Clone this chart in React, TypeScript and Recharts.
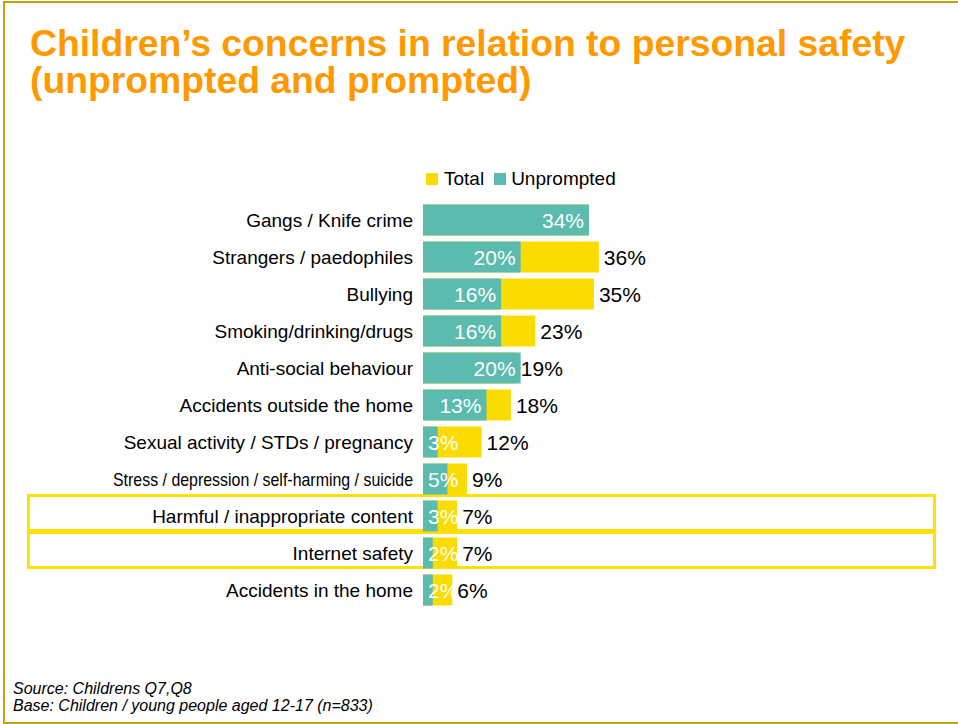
import { BarChart, Bar, XAxis, YAxis } from "recharts";

const categories = [
  "Gangs / Knife crime",
  "Strangers / paedophiles",
  "Bullying",
  "Smoking/drinking/drugs",
  "Anti-social behaviour",
  "Accidents outside the home",
  "Sexual activity / STDs / pregnancy",
  "Stress / depression / self-harming / suicide",
  "Harmful / inappropriate content",
  "Internet safety",
  "Accidents in the home",
];
const totalValues = [34, 36, 35, 23, 19, 18, 12, 9, 7, 7, 6];
const unpromptedValues = [34, 20, 16, 16, 20, 13, 3, 5, 3, 2, 2];
const highlighted = ["Harmful / inappropriate content", "Internet safety"];

const FONT = '"Liberation Sans", Arial, sans-serif';
const TEAL = "#5BBBAF";
const YELLOW = "#FADC00";
const BOX = "#FFE000";

const PLOT_TOP = 201.5;
const BAND = 37;

const rows = categories.map((c, i) => ({
  category: c,
  total: totalValues[i],
  unprompted: unpromptedValues[i],
}));

// long labels are squeezed in the original slide
const CategoryTick = (props: any) => {
  const { x, y, payload } = props;
  const long = String(payload.value).length > 40;
  return (
    <text
      x={x}
      y={y}
      textAnchor="end"
      dominantBaseline="central"
      fill="#000"
      fontSize={19}
      fontFamily={FONT}
      textLength={long ? 300 : undefined}
      lengthAdjust={long ? "spacingAndGlyphs" : undefined}
    >
      {payload.value}
    </text>
  );
};

const TotalLabel = (props: any) => {
  const { x, y, width, height, value, index } = props;
  if (value === unpromptedValues[index]) return null;
  return (
    <text
      x={x + width + 5}
      y={y + height / 2}
      dominantBaseline="central"
      fill="#000"
      fontSize={21}
      fontFamily={FONT}
    >
      {value}%
    </text>
  );
};

const UnpromptedLabel = (props: any) => {
  const { x, y, width, height, value } = props;
  const tw = (String(value).length * 0.556 + 0.889) * 21;
  const fits = width - 10 >= tw;
  return (
    <text
      x={fits ? x + width - 5 : x + 5}
      y={y + height / 2}
      textAnchor={fits ? "end" : "start"}
      dominantBaseline="central"
      fill="#fff"
      fontSize={21}
      fontFamily={FONT}
    >
      {value}%
    </text>
  );
};

function App() {
  return (
    <div
      style={{
        position: "fixed",
        left: 0,
        top: 0,
        width: 958,
        height: 724,
        background: "#fff",
        fontFamily: FONT,
        overflow: "hidden",
      }}
    >
      <div
        style={{
          position: "absolute",
          left: 3,
          top: 1,
          width: 960,
          height: 719,
          borderTop: "2px solid #C0A414",
          borderLeft: "2px solid #C0A414",
          borderBottom: "2px solid #C0A414",
        }}
      />
      <div
        style={{
          position: "absolute",
          left: 30,
          top: 24.5,
          fontSize: 37.3,
          lineHeight: "37px",
          fontWeight: "bold",
          color: "#FF9900",
          whiteSpace: "nowrap",
        }}
      >
        Children’s concerns in relation to personal safety
        <br />
        (unprompted and prompted)
      </div>

      {categories.map((c, i) =>
        highlighted.includes(c) ? (
          <div
            key={c}
            style={{
              position: "absolute",
              left: 27,
              top: PLOT_TOP + i * BAND - 4,
              width: 909,
              height: 38,
              boxSizing: "border-box",
              border: `3px solid ${BOX}`,
            }}
          />
        ) : null
      )}

      <div
        style={{
          position: "absolute",
          left: 426,
          top: 168,
          display: "flex",
          alignItems: "center",
          fontSize: 19,
          lineHeight: "22px",
          color: "#000",
          whiteSpace: "nowrap",
        }}
      >
        <span style={{ width: 12, height: 12, background: YELLOW, marginRight: 6 }} />
        <span style={{ marginRight: 10 }}>Total</span>
        <span style={{ width: 12, height: 12, background: TEAL, marginRight: 5 }} />
        <span>Unprompted</span>
      </div>

      <div style={{ position: "absolute", left: 0, top: 0 }}>
        <BarChart
          width={958}
          height={724}
          data={rows}
          layout="vertical"
          barGap={-31}
          barSize={31}
          margin={{ top: PLOT_TOP, right: 242, bottom: 724 - PLOT_TOP - BAND * 11, left: 0 }}
        >
          <XAxis type="number" domain={[0, 60]} hide />
          <YAxis
            type="category"
            dataKey="category"
            width={423}
            tickLine={false}
            axisLine={false}
            tickSize={0}
            tickMargin={10}
            interval={0}
            tick={<CategoryTick />}
          />
          <Bar dataKey="total" fill={YELLOW} isAnimationActive={false} label={TotalLabel} />
          <Bar dataKey="unprompted" fill={TEAL} isAnimationActive={false} label={UnpromptedLabel} />
        </BarChart>
      </div>

      <div
        style={{
          position: "absolute",
          left: 13,
          top: 680,
          fontSize: 16,
          lineHeight: "17px",
          fontStyle: "italic",
          color: "#000",
          whiteSpace: "nowrap",
        }}
      >
        Source: Childrens Q7,Q8
        <br />
        Base: Children / young people aged 12-17 (n=833)
      </div>
    </div>
  );
}

export default App;
